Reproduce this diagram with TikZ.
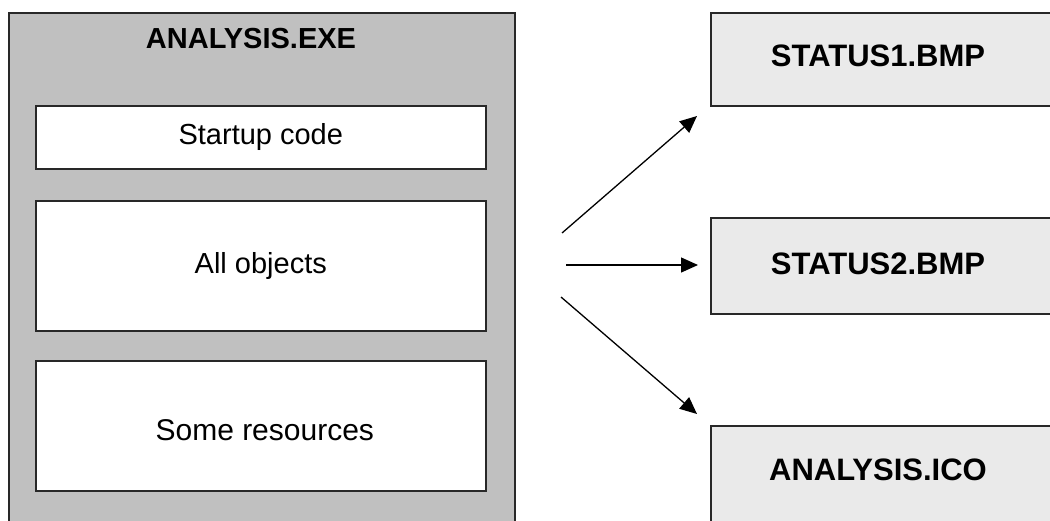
\documentclass[tikz,border=0pt]{standalone}
\usepackage{fontspec}
\setmainfont{Liberation Sans}
\usetikzlibrary{arrows.meta}
\definecolor{silverfill}{RGB}{192,192,192}
\definecolor{dotfill}{RGB}{234,234,234}
\definecolor{edgecol}{RGB}{40,40,40}
\tikzset{
  outerbox/.style={draw=edgecol, line width=1.6pt, fill=silverfill, anchor=north west, inner sep=0pt},
  innerbox/.style={draw=edgecol, line width=1.6pt, fill=white, anchor=north west, inner sep=0pt},
  filebox/.style={draw=edgecol, line width=1.6pt, fill=dotfill, anchor=north west, inner sep=0pt},
  boldlbl/.style={font=\fontsize{29}{32}\selectfont\bfseries, inner sep=0pt},
  filelbl/.style={font=\fontsize{31}{34}\selectfont\bfseries, inner sep=0pt},
  plainlbl/.style={font=\fontsize{29}{32}\selectfont, inner sep=0pt},
  link/.style={line width=1.3pt, -{Triangle[length=17pt,width=15pt]}}
}
\begin{document}
\begin{tikzpicture}[x=1pt,y=-1pt]
\useasboundingbox (0,0) rectangle (1050,520);
\fill[white] (0,0) rectangle (1050,520);
\begin{scope}
\clip (0,0) rectangle (1050,520);
% outer executable box
\node[outerbox, minimum width=506pt, minimum height=530pt] (exe) at (8,12) {};
\node[boldlbl] (exetitle) at (251,39) {ANALYSIS.EXE};
% inner boxes
\node[innerbox, minimum width=450pt, minimum height=63pt] (startup) at (35,105) {};
\node[plainlbl] at (startup.center) {Startup code};
\node[innerbox, minimum width=450pt, minimum height=130pt] (objs) at (35,200) {};
\node[plainlbl] at (objs.center) {All objects};
\node[innerbox, minimum width=450pt, minimum height=130pt] (res) at (35,360) {};
\node[plainlbl, font=\fontsize{30}{33}\selectfont] at ([xshift=4pt,yshift=-4pt]res.center) {Some resources};
% file boxes
\node[filebox, minimum width=360pt, minimum height=93pt] (s1) at (710,12) {};
\node[filelbl] (s1lbl) at (878,56) {STATUS1.BMP};
\node[filebox, minimum width=360pt, minimum height=96pt] (s2) at (710,217) {};
\node[filelbl] (s2lbl) at (878,264) {STATUS2.BMP};
\node[filebox, minimum width=360pt, minimum height=120pt] (ico) at (710,425) {};
\node[filelbl] (icolbl) at (878,470) {ANALYSIS.ICO};
% connectors
\coordinate (a1s) at (562,233);
\coordinate (a1e) at (697,116);
\coordinate (a2s) at (566,265);
\coordinate (a2e) at (698,265);
\coordinate (a3s) at (561,297);
\coordinate (a3e) at (697,414);
\draw[link] (a1s) -- (a1e);
\draw[link] (a2s) -- (a2e);
\draw[link] (a3s) -- (a3e);
\end{scope}
\end{tikzpicture}
\end{document}
